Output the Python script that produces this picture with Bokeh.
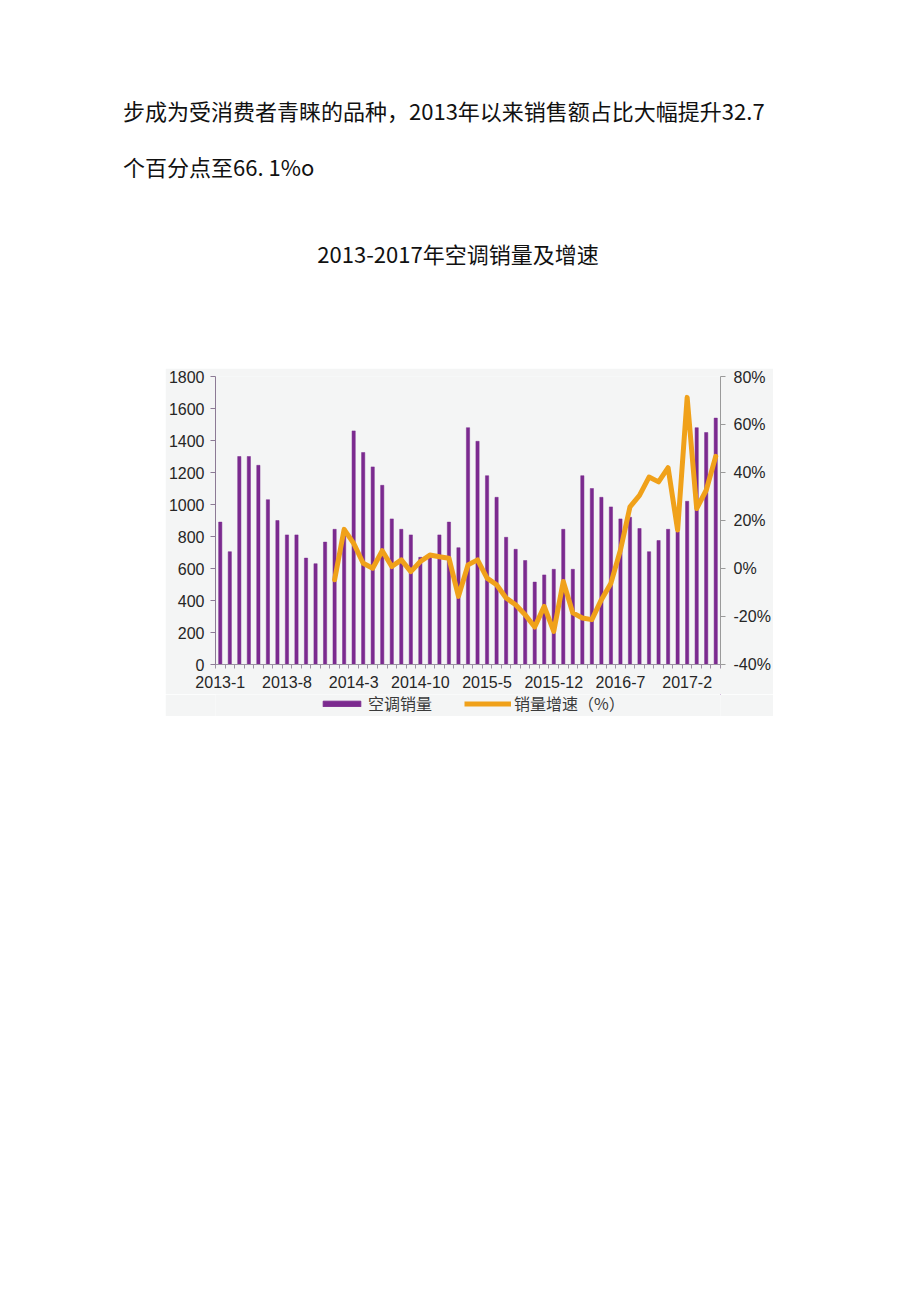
from bokeh.plotting import figure
from bokeh.models import (Range1d, LinearAxis, FixedTicker, Legend, LegendItem,
                          Div, Spacer)
from bokeh.layouts import column, row
from bokeh.embed import file_html
from bokeh.resources import INLINE

# ---------------- data ----------------
sales = [890, 705, 1300, 1300, 1245, 1030, 900, 810, 810, 665, 630, 765,
         845, 850, 1460, 1325, 1235, 1120, 910, 845, 810, 670, 680, 810,
         890, 730, 1480, 1395, 1180, 1045, 795, 720, 650, 515, 560, 595,
         845, 595, 1180, 1100, 1045, 985, 910, 920, 850, 705, 775, 845,
         830, 1020, 1480, 1450, 1540]
growth_start = 12  # growth series starts at 2014-1
growth = [-4.7, 16.3, 10.5, 2.2, 0.1, 7.4, 0.8, 3.6, -1.3, 2.9, 5.6, 4.9,
          4.3, -11.6, 1.5, 3.6, -4.0, -6.8, -12.3, -15.1, -19.3, -24.4, -15.8, -26.2,
          -5.4, -18.5, -20.6, -21.3, -13.0, -6.1, 7.7, 25.7, 30.5, 38.1, 36.1, 42.0,
          16.0, 71.3, 25.0, 32.6, 46.7]
tick_pos = [0, 7, 14, 21, 28, 35, 42, 49]
tick_labels = ["2013-1", "2013-8", "2014-3", "2014-10", "2015-5", "2015-12", "2016-7", "2017-2"]
left_ticks = [0, 200, 400, 600, 800, 1000, 1200, 1400, 1600, 1800]
right_ticks = [-40, -20, 0, 20, 40, 60, 80]
series_names = ["空调销量", "销量增速（%）"]
title_text = "2013-2017年空调销量及增速"
para1 = "步成为受消费者青睐的品种，2013年以来销售额占比大幅提升32.7"
para2 = "个百分点至66. 1%o"

BAR = "#7B2A8F"
LINE = "#F0A11A"
BG = "#F4F5F5"
FONT = "Liberation Sans"
CJK = "Noto Sans CJK SC"

xs = list(range(len(sales)))
gx = [growth_start + i for i in range(len(growth))]

p = figure(width=608, height=326, output_backend="svg",
           toolbar_location=None, x_range=Range1d(-0.5, len(sales) - 0.5),
           y_range=Range1d(0, 1800), min_border_left=50, min_border_right=53,
           min_border_top=8, min_border_bottom=30,
           background_fill_color=BG, border_fill_color=BG, outline_line_color=None)
p.xgrid.visible = False
p.ygrid.visible = False
p.extra_y_ranges = {"pct": Range1d(-40, 80)}

bars = p.vbar(x=xs, top=sales, width=0.34, fill_color=BAR, line_color=BAR, line_width=0.5)
ln = p.line(x=gx, y=growth, y_range_name="pct", line_color=LINE, line_width=5,
            line_join="round", line_cap="round")

# left axis
ya = p.yaxis[0]
ya.ticker = FixedTicker(ticks=left_ticks)
ya.axis_line_color = "#8C7A95"
ya.major_tick_line_color = "#8C7A95"
ya.major_tick_out = 5
ya.major_tick_in = 0
ya.minor_tick_line_color = None
ya.major_label_text_font = FONT
ya.major_label_text_font_size = "16px"
ya.major_label_text_color = "#262626"
ya.major_label_standoff = 6

# right axis
ra = LinearAxis(y_range_name="pct", ticker=FixedTicker(ticks=right_ticks))
ra.major_label_overrides = {t: f"{t}%" for t in right_ticks}
ra.axis_line_color = "#9A9A9A"
ra.major_tick_line_color = "#9A9A9A"
ra.major_tick_out = 5
ra.major_tick_in = 0
ra.minor_tick_line_color = None
ra.major_label_text_font = FONT
ra.major_label_text_font_size = "16px"
ra.major_label_text_color = "#262626"
ra.major_label_standoff = 8
p.add_layout(ra, "right")

# bottom axis
xa = p.xaxis[0]
xa.ticker = FixedTicker(ticks=tick_pos, minor_ticks=[i - 0.5 for i in range(len(sales) + 1)])
xa.major_label_overrides = {t: l for t, l in zip(tick_pos, tick_labels)}
xa.axis_line_color = "#9C92A3"
xa.major_tick_out = 0
xa.major_tick_in = 0
xa.minor_tick_out = 4
xa.minor_tick_in = 0
xa.minor_tick_line_color = "#9C92A3"
xa.major_label_text_font = FONT
xa.major_label_text_font_size = "16px"
xa.major_label_text_color = "#262626"
xa.major_label_standoff = 7

# legend strip (separate small figure so nothing is clipped)
lg = figure(width=608, height=22, output_backend="svg", toolbar_location=None,
            x_range=Range1d(0, 1), y_range=Range1d(0, 1),
            min_border_left=0, min_border_right=0, min_border_top=0, min_border_bottom=0,
            background_fill_color=BG, border_fill_color=BG, outline_line_color=None)
lg.axis.visible = False
lg.xgrid.visible = False
lg.ygrid.visible = False
# legend-only proxies placed outside the visible range
lbar = lg.vbar(x=[10], top=[10], bottom=[9], width=0.3, fill_color=BAR, line_color=BAR)
lline = lg.line(x=[10, 11], y=[10, 10], line_color=LINE, line_width=5)
legend = Legend(items=[LegendItem(label=series_names[0], renderers=[lbar]),
                       LegendItem(label=series_names[1], renderers=[lline])],
                orientation="horizontal", location=(103, 1),
                background_fill_alpha=0, border_line_color=None,
                glyph_width=47, glyph_height=7, label_standoff=3, spacing=32,
                padding=0, margin=0,
                label_text_font=CJK, label_text_font_size="16px",
                label_text_color="#3a3a3a")
lg.add_layout(legend, "center")

html = f"""
<div style="position:relative;width:920px;height:368px;background:#ffffff;font-family:'{CJK}';color:#111;">
  <div style="position:absolute;left:123px;top:97px;font-size:22px;line-height:26px;white-space:nowrap;">{para1}</div>
  <div style="position:absolute;left:123px;top:153px;font-size:22px;line-height:26px;white-space:nowrap;">{para2}</div>
  <div style="position:absolute;left:0px;width:916px;top:240px;font-size:22px;line-height:26px;text-align:center;white-space:nowrap;">{title_text}</div>
</div>
"""
top = Div(text=html, width=920, height=368, margin=0)

chart = column(p, lg, margin=0, spacing=0)
layout = column(top, row(Spacer(width=165, height=348, margin=0), chart, margin=0, spacing=0),
                Spacer(width=920, height=580, margin=0), margin=0, spacing=0)

open("out.html", "w").write(file_html(layout, INLINE))
